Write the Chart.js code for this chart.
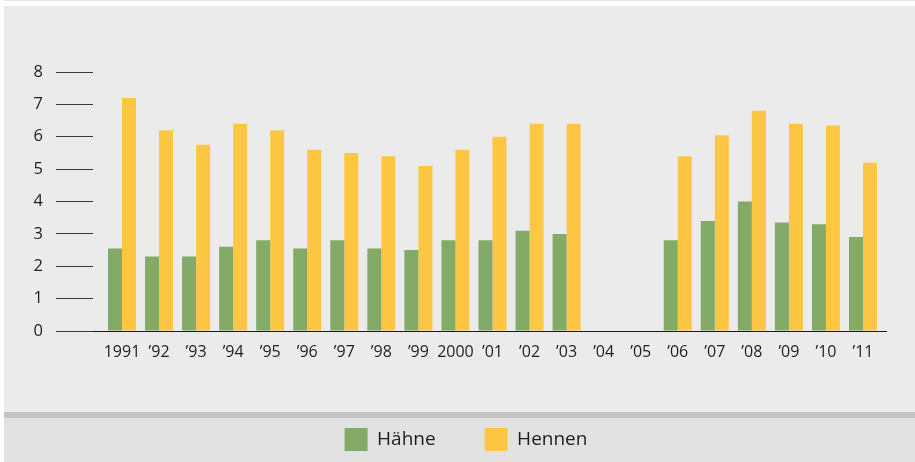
<!DOCTYPE html>
<html>
<head>
<meta charset="utf-8">
<script src="https://cdn.jsdelivr.net/npm/chart.js@4"></script>
<style>
    body { margin: 0; background: #ffffff; }
    #fundo {
        position: absolute; left: 4px; top: 0; width: 911px; height: 462px;
        background: linear-gradient(to bottom, #e4e4e4 0 1px, #ffffff 1px 6px, #ebebeb 6px 412px, #c4c4c4 412px 418px, #e2e2e2 418px);
    }
    #graficoAves { position: absolute; left: 0; top: 0; }
</style>
</head>
<body>
<div id="fundo"></div>
<canvas id="graficoAves" width="915" height="462"></canvas>
<script>

const anos = [1991, 1992, 1993, 1994, 1995, 1996, 1997, 1998, 1999, 2000, 2001, 2002, 2003, 2004, 2005, 2006, 2007, 2008, 2009, 2010, 2011];

const rotulos = ['1991', '’92', '’93', '’94', '’95', '’96', '’97', '’98', '’99', '2000', '’01', '’02', '’03', '’04', '’05', '’06', '’07', '’08', '’09', '’10', '’11'];

const haehne = [2.55, 2.3, 2.3, 2.6, 2.8, 2.55, 2.8, 2.55, 2.5, 2.8, 2.8, 3.1, 3.0, null, null, 2.8, 3.4, 4.0, 3.35, 3.3, 2.9];

const hennen = [7.2, 6.2, 5.75, 6.4, 6.2, 5.6, 5.5, 5.4, 5.1, 5.6, 6.0, 6.4, 6.4, null, null, 5.4, 6.05, 6.8, 6.4, 6.35, 5.2];

const texto = '#1e1e1e';

const data = {
    labels: anos,
    datasets: [{
        label: 'Hähne',
        backgroundColor: '#83ab67',
        borderWidth: 0,
        data: haehne,
    }, {
        label: 'Hennen',
        backgroundColor: '#fdc743',
        borderWidth: 0,
        data: hennen,
    }]
}

// a legenda fica centrada um pouco à direita do centro da página
const deslocaLegenda = {
    id: 'deslocaLegenda',
    afterLayout(chart) {
        chart.legend.left = 46;
    }
};

const config = {
    type: 'bar',
    data: data,
    plugins: [deslocaLegenda],
    options: {
        responsive: false,
        animation: false,
        categoryPercentage: 0.756,
        barPercentage: 1,
        layout: {
            padding: { left: 0, right: 29, top: 72, bottom: 1 }
        },
        plugins: {
            tooltip: { enabled: false },
            legend: {
                position: 'bottom',
                labels: {
                    boxWidth: 23,
                    boxHeight: 23,
                    padding: 49,
                    color: texto,
                    font: { family: 'Open Sans', size: 19 }
                }
            }
        },
        scales: {
            x: {
                type: 'linear',
                offset: false,
                min: 1990.217,
                max: 2011.621,
                grid: { display: false, drawTicks: false },
                border: { display: true, color: '#1a1a1a', width: 1 },
                ticks: {
                    stepSize: 1,
                    autoSkip: false,
                    maxRotation: 0,
                    includeBounds: false,
                    padding: 12,
                    color: texto,
                    font: { family: 'Open Sans', size: 16 },
                    callback: function (valor) {
                        return rotulos[valor - anos[0]];
                    }
                },
                afterFit: function (escala) {
                    escala.height = 48;
                }
            },
            y: {
                min: 0,
                max: 8,
                grid: {
                    drawOnChartArea: false,
                    drawTicks: true,
                    tickLength: 37,
                    color: '#3a3a3a',
                    lineWidth: 1
                },
                border: { display: false },
                ticks: {
                    stepSize: 1,
                    padding: 13,
                    color: texto,
                    font: { family: 'Open Sans', size: 16.5 }
                },
                afterFit: function (escala) {
                    escala.width = 93;
                }
            }
        }
    }
};

new Chart(
    document.getElementById('graficoAves'),
    config
);

</script>
</body>
</html>
